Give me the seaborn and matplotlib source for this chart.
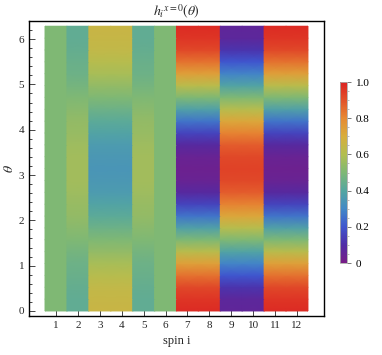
import numpy as np
import matplotlib
matplotlib.use("Agg")
import matplotlib.pyplot as plt
import seaborn as sns
from matplotlib.ticker import MultipleLocator

sns.set_style("ticks")
plt.rcParams['font.family'] = ['Liberation Serif', 'DejaVu Serif']
plt.rcParams['mathtext.fontset'] = 'stix'

# theta samples (0 .. 2pi, every 15 degrees)
theta = np.linspace(0, 2 * np.pi, 25)
spins = list(range(1, 13))

# h_i values, one list per column type
flat = [0.50] * 25
mild = [0.43, 0.43, 0.44, 0.45, 0.46, 0.48, 0.50, 0.52, 0.54, 0.55, 0.56, 0.57, 0.57,
        0.57, 0.56, 0.55, 0.54, 0.52, 0.50, 0.48, 0.46, 0.45, 0.44, 0.43, 0.43]
swing = [0.66, 0.65, 0.64, 0.61, 0.58, 0.54, 0.50, 0.46, 0.42, 0.39, 0.36, 0.35, 0.34,
         0.35, 0.36, 0.39, 0.42, 0.46, 0.50, 0.54, 0.58, 0.61, 0.64, 0.65, 0.66]
big = [0.98, 0.96, 0.92, 0.84, 0.74, 0.62, 0.50, 0.38, 0.26, 0.16, 0.08, 0.04, 0.03,
       0.04, 0.08, 0.16, 0.26, 0.38, 0.50, 0.62, 0.74, 0.84, 0.92, 0.96, 0.98]
anti = [0.06, 0.07, 0.12, 0.20, 0.29, 0.39, 0.50, 0.61, 0.72, 0.81, 0.88, 0.92, 0.93,
        0.92, 0.88, 0.81, 0.72, 0.61, 0.50, 0.39, 0.29, 0.20, 0.12, 0.07, 0.06]
spin_values = [flat, mild, swing, swing, mild, flat, big, big, anti, anti, big, big]

rainbow = ["#781C86", "#4E2DA6", "#3F56CE", "#4389C6", "#54A6A0", "#7EB875",
           "#B2BE50", "#D8AE3D", "#E68A33", "#E2522A", "#DB2222"]
cmap = sns.blend_palette(rainbow, as_cmap=True)

# build vertex grid: each spin is a strip from i-0.5 to i+0.5
xs, cs = [], []
for s, vals in zip(spins, spin_values):
    xs += [s - 0.5, s + 0.5]
    cs += [vals, vals]
X, Y = np.meshgrid(xs, theta)
C = np.array(cs).T

fig = plt.figure(figsize=(3.82, 3.55), dpi=100)
ax = fig.add_axes([0.076, 0.110, 0.772, 0.831])
mesh = ax.pcolormesh(X, Y, C, cmap=cmap, vmin=0, vmax=1, shading='gouraud')

ax.set_xlim(-0.23, 13.23)
ax.set_ylim(-0.11, 6.40)
ax.set_xticks(spins)
ax.yaxis.set_major_locator(MultipleLocator(1))
ax.yaxis.set_minor_locator(MultipleLocator(0.2))
ax.tick_params(axis='both', which='both', direction='in', top=False, right=False,
               labelsize=8, width=0.6)
ax.tick_params(which='major', length=4)
ax.tick_params(which='minor', length=2)
for sp in ax.spines.values():
    sp.set_linewidth(1.0)
    sp.set_color('black')

ax.set_xlabel("spin i", fontsize=9)
ax.set_ylabel(r"$\theta$", fontsize=10, labelpad=2)
ax.set_title(r"$h_i{}^{x=0}(\theta)$", fontsize=10, pad=3)

cax = fig.add_axes([0.890, 0.259, 0.018, 0.510])
cb = fig.colorbar(mesh, cax=cax, ticks=[0, 0.2, 0.4, 0.6, 0.8, 1.0])
cb.ax.set_yticklabels(["0", "0.2", "0.4", "0.6", "0.8", "1.0"])
cb.ax.yaxis.set_minor_locator(MultipleLocator(0.05))
cb.ax.tick_params(which='major', length=3, width=0.5, labelsize=8, colors='#444444',
                  labelcolor='black')
cb.ax.tick_params(which='minor', length=1.5, width=0.4, colors='#888888')
cb.outline.set_edgecolor('#aaaaaa')
cb.outline.set_linewidth(0.6)

fig.savefig("out.png", dpi=100)
